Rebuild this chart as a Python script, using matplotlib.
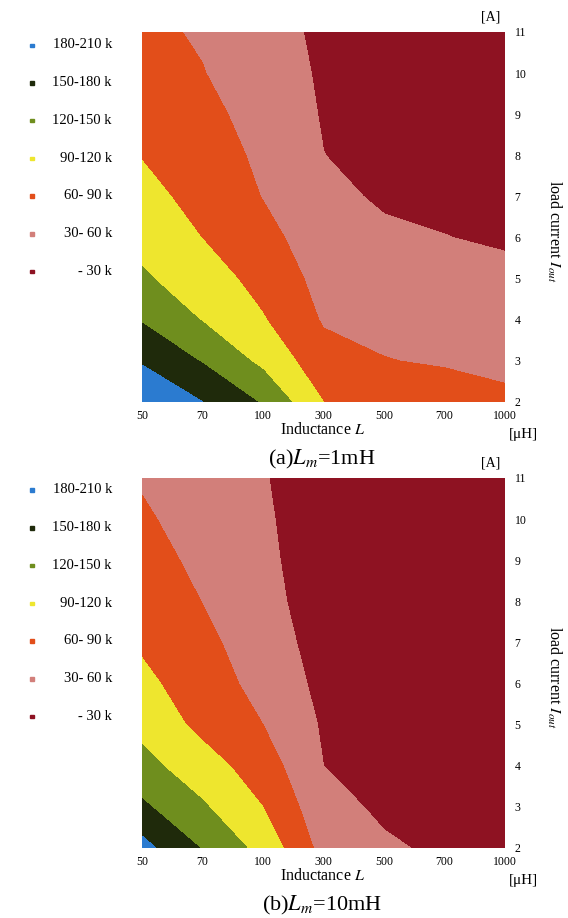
import numpy as np
import matplotlib
matplotlib.use("Agg")
import matplotlib.pyplot as plt

plt.rcParams['font.family'] = ['Liberation Serif', 'DejaVu Serif']
plt.rcParams['mathtext.fontset'] = 'stix'

inductance = ['50', '70', '100', '300', '500', '700', '1000']
current = [2, 3, 4, 5, 6, 7, 8, 9, 10, 11]

# switching frequency [kHz], one list per inductance column, current 2..11 A
freq_a = [
    [205, 177, 147.6, 124, 110.7, 97, 89, 81, 73, 66],
    [180, 148, 118.5, 103.7, 89.5, 82.4, 75.2, 68, 61, 57],
    [147, 112.7, 92, 80, 69, 59, 54, 49, 44, 40],
    [90, 71, 57.3, 50.5, 43.8, 37, 30.3, 28, 26.5, 25],
    [80, 61, 52, 43.4, 35, 26.4, 22, 18, 14, 10],
    [75, 57, 48, 39.4, 30.5, 25, 20, 17, 14, 10],
    [65, 54, 45, 36, 27, 22, 18, 16, 13, 10],
]
freq_b = [
    [190, 155, 129.4, 111, 96.7, 86, 78.9, 71.6, 64.3, 57],
    [148, 123.6, 102.4, 82, 75, 67, 59.5, 53, 47, 41],
    [110, 90, 75, 60, 50, 45, 41, 38, 35, 32],
    [50, 40, 30, 26.7, 22.6, 18, 13, 10, 10, 12],
    [34, 25, 20, 17, 15, 13, 12, 11, 10, 10],
    [25, 20, 17, 15, 13, 12, 11, 10, 10, 10],
    [20, 17, 15, 13, 12, 11, 10, 10, 10, 10],
]

levels = [0, 30, 60, 90, 120, 150, 180, 210]
band_labels = ['180-210 k', '150-180 k', '120-150 k', '90-120 k', '60- 90 k', '30- 60 k', '- 30 k']
colors = ['#8e1222', '#d27f7a', '#e24e1a', '#eee62e', '#6f8e1e', '#1f2a0b', '#2b7bd0']

W, H = 568, 918
fig = plt.figure(figsize=(W / 100, H / 100), dpi=100)


def panel(bottom, data, caption, leg_top):
    ax = fig.add_axes([142 / W, bottom, 363 / W, 370 / H])
    xi = np.arange(len(inductance))
    Z = np.array(data).T
    ax.contourf(xi, current, Z, levels=levels, colors=colors)
    ax.set_xlim(0, len(inductance) - 1)
    ax.set_ylim(2, 11)
    ax.set_xticks(xi)
    ax.set_xticklabels(inductance)
    ax.set_yticks(current)
    ax.yaxis.tick_right()
    ax.tick_params(axis='both', length=0, labelsize=8.5)
    ax.tick_params(axis='x', pad=5.5)
    ax.tick_params(axis='y', pad=7)
    for s in ax.spines.values():
        s.set_visible(False)
    ax.text(0.497, -0.077, 'Inductance $L$', transform=ax.transAxes,
            fontsize=11.5, ha='center', va='center')
    ax.text(1.05, -0.089, '[μH]', transform=ax.transAxes, fontsize=11,
            ha='center', va='center')
    ax.text(0.961, 1.04, '[A]', transform=ax.transAxes, fontsize=10,
            ha='center', va='center')
    ax.text(1.135, 0.46, 'load current $I_{out}$', transform=ax.transAxes,
            rotation=-90, fontsize=11.5, ha='center', va='center')
    ax.text(0.495, -0.155, caption, transform=ax.transAxes, fontsize=16,
            ha='center', va='center')

    # legend column on the left
    for k, (lab, col) in enumerate(zip(band_labels, colors[::-1])):
        y = 1 - (leg_top + k * 37.7) / H
        fig.text(112 / W, y, lab, fontsize=10.5, ha='right', va='center')
        fig.patches.append(plt.Rectangle((30 / W, y - 2 / H), 3.5 / W, 3.5 / H,
                                         transform=fig.transFigure,
                                         color=col, figure=fig))
    return ax


panel(1 - 402 / H, freq_a, '(a)$L_{m}$=1mH', 45)
panel(1 - 848 / H, freq_b, '(b)$L_{m}$=10mH', 490)

fig.savefig('out.png', dpi=100)
